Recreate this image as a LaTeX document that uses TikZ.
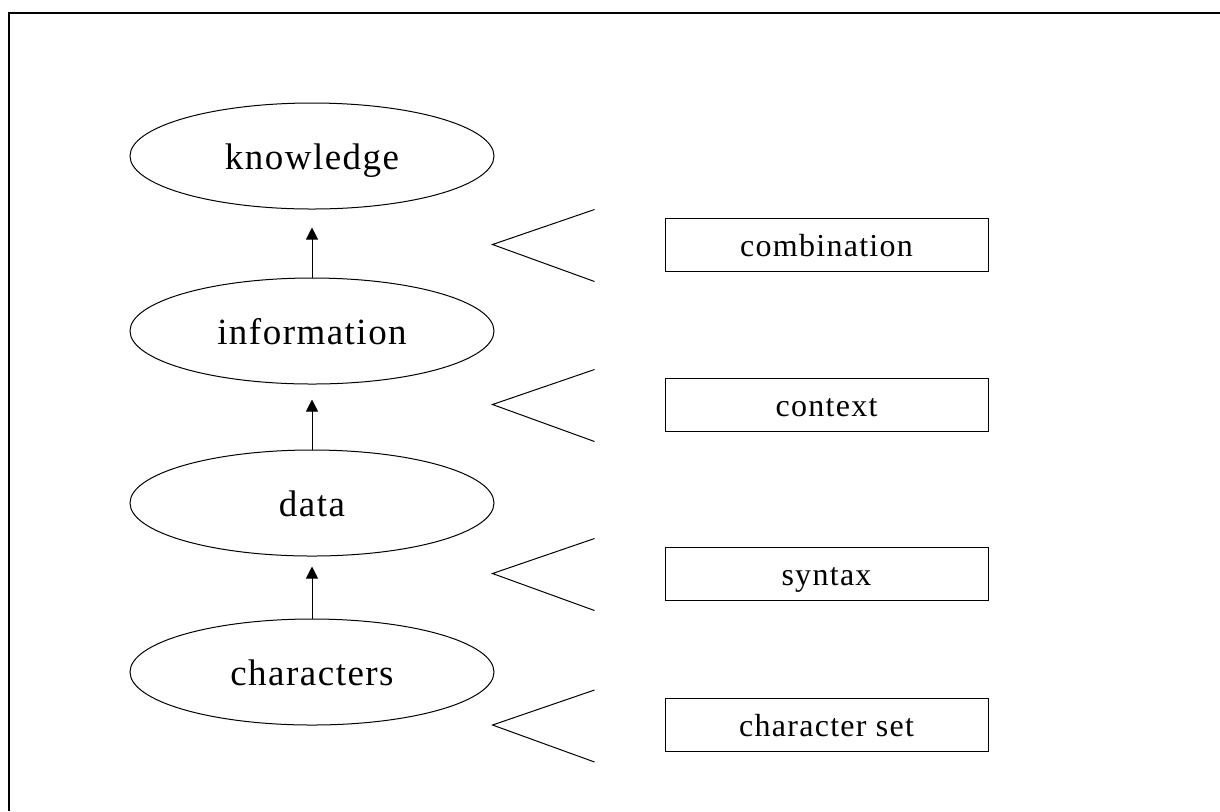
\documentclass[tikz,border=0pt]{standalone}
\usepackage{fontspec}
\setmainfont{Liberation Serif}[LetterSpace=4]
\usetikzlibrary{arrows.meta,shapes.geometric}

\begin{document}
\begin{tikzpicture}[x=0.5pt,y=-0.5pt,line width=0.5pt,
  level/.style={ellipse,draw,inner sep=0pt,minimum width=182pt,minimum height=53pt,
    text height=14pt,text depth=1pt,font=\fontsize{18.5}{22}\selectfont},
  factor/.style={rectangle,draw,inner sep=0pt,minimum width=161.5pt,minimum height=26.5pt,
    text height=12.5pt,text depth=1pt,font=\fontsize{16}{19}\selectfont},
  up/.style={-{Triangle[length=6pt,width=6pt]}}]
\useasboundingbox (0,0) rectangle (1220,811);
\draw[line width=1pt] (9,811) -- (9,12.5) -- (1220,12.5);
% levels
\node[level] (know) at (312,156) {knowledge};
\node[level] (info) at (312,331) {information};
\node[level] (data) at (312,503) {data};
\node[level] (chars) at (312,672) {characters};
\draw[up,shorten >=9pt] (info) -- (know);
\draw[up,shorten >=7.5pt] (data) -- (info);
\draw[up,shorten >=5pt] (chars) -- (data);
% factors
\node[factor] (comb) at (826.5,244.5) {combination};
\node[factor] (ctx) at (826.5,404.5) {context};
\node[factor] (syn) at (826.5,573.5) {syntax};
\node[factor] (cset) at (826.5,725) {character set};
\draw (comb.west) ++(-70,-35) -- ++(-102,35) -- ++(102,37);
\draw (ctx.west) ++(-70,-35) -- ++(-102,35) -- ++(102,37);
\draw (syn.west) ++(-70,-35) -- ++(-102,35) -- ++(102,37);
\draw (cset.west) ++(-70,-35) -- ++(-102,35) -- ++(102,37);
\end{tikzpicture}
\end{document}
